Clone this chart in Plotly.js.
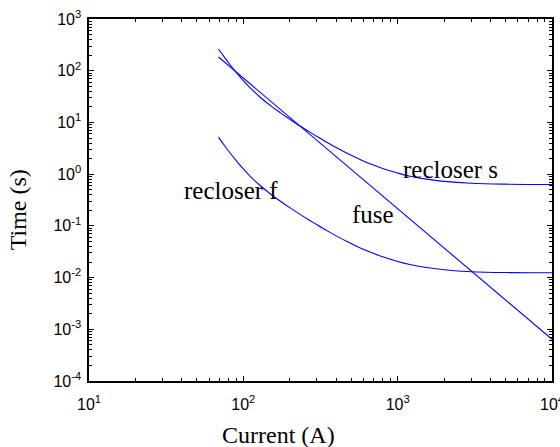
<!DOCTYPE html>
<html>
<head>
<meta charset="utf-8">
<script src="https://cdn.plot.ly/plotly-3.0.1.min.js"></script>
<style>
  html, body { margin: 0; padding: 0; background: #fff; overflow: hidden; }
  #chart { width: 560px; height: 447px; }
</style>
</head>
<body>
<div id="chart"></div>
<script>
// Time-current characteristics: fast and slow recloser curves and a fuse
const currentFast = [69, 75, 80, 91, 100, 110, 128, 150, 173, 200, 233, 270, 300, 350, 400, 470, 550, 650, 800, 1000, 1200, 1500, 2000, 3000, 5000, 10000];
const timeFast    = [5.2, 3.66, 2.83, 1.75, 1.26, 0.93, 0.61, 0.414, 0.303, 0.225, 0.167, 0.127, 0.105, 0.080, 0.064, 0.0497, 0.0396, 0.0318, 0.0252, 0.0205, 0.0179, 0.0158, 0.0142, 0.0130, 0.0125, 0.0124];

const currentSlow = [69, 75, 80, 91, 100, 110, 128, 150, 173, 200, 233, 270, 300, 350, 400, 470, 550, 650, 800, 1000, 1200, 1500, 2000, 3000, 5000, 10000];
const timeSlow    = [263, 187, 144, 89, 64, 47.5, 31, 21.1, 15.5, 11.5, 8.5, 6.5, 5.35, 4.1, 3.26, 2.53, 2.02, 1.62, 1.29, 1.05, 0.91, 0.81, 0.725, 0.665, 0.64, 0.632];

const currentFuse = [69, 100, 233, 1000, 3000, 10000];
const timeFuse    = [184, 72, 8.5, 0.21, 0.013, 0.00064];

const curveLabels = ['recloser f', 'recloser s', 'fuse'];
const xTitle = 'Current (A)';
const yTitle = 'Time (s)';

// decade ticks and labels
const xDecades = [10, 100, 1000, 10000];
const xDecadeText = ['10<sup>1</sup>', '10<sup>2</sup>', '10<sup>3</sup>', '10<sup>4</sup>'];
const yDecades = [1e-4, 1e-3, 1e-2, 1e-1, 1, 10, 100, 1000];
const yDecadeText = ['10<sup>-4</sup>', '10<sup>-3</sup>', '10<sup>-2</sup>', '10<sup>-1</sup>', '10<sup>0</sup>', '10<sup>1</sup>', '10<sup>2</sup>', '10<sup>3</sup>'];

// minor ticks at 2..9 within each decade
function minorTicks(decades) {
  const out = [];
  decades.slice(0, -1).forEach(d => { for (let k = 2; k <= 9; k++) out.push(d * k); });
  return out;
}

const lineStyle = { color: 'rgb(0,0,255)', width: 1.1 };
const serif = '"Times New Roman", "Liberation Serif", serif';
const sans = 'Arial, "Liberation Sans", sans-serif';

const traces = [
  { x: currentFast, y: timeFast, mode: 'lines', line: Object.assign({ shape: 'spline', smoothing: 1 }, lineStyle), name: curveLabels[0] },
  { x: currentSlow, y: timeSlow, mode: 'lines', line: Object.assign({ shape: 'spline', smoothing: 1 }, lineStyle), name: curveLabels[1] },
  // the fuse sits on the overlay axes that carry the minor ticks
  { x: currentFuse, y: timeFuse, mode: 'lines', line: Object.assign({ shape: 'linear' }, lineStyle), name: curveLabels[2], xaxis: 'x2', yaxis: 'y2' }
];

function majorAxis(vals, text, range, standoff) {
  return {
    type: 'log',
    range: range,
    tickmode: 'array',
    tickvals: vals,
    ticktext: text,
    showgrid: false,
    zeroline: false,
    showline: true,
    linecolor: '#000',
    linewidth: 1.6,
    mirror: 'allticks',
    ticks: 'inside',
    ticklen: 5,
    tickwidth: 1,
    tickcolor: '#000',
    ticklabelstandoff: standoff,
    ticklabeloverflow: 'allow',
    tickfont: { family: sans, size: 16, color: '#000' }
  };
}

function minorAxis(vals, range, over, anchor, side) {
  return {
    type: 'log',
    range: range,
    overlaying: over,
    anchor: anchor,
    side: side,
    tickmode: 'array',
    tickvals: minorTicks(vals),
    showticklabels: false,
    showgrid: false,
    zeroline: false,
    showline: false,
    mirror: 'allticks',
    ticks: 'inside',
    ticklen: 3,
    tickwidth: 1,
    tickcolor: '#000'
  };
}

const layout = {
  width: 560,
  height: 447,
  margin: { l: 89, r: 8, t: 19, b: 66, pad: 0 },
  paper_bgcolor: '#fff',
  plot_bgcolor: '#fff',
  showlegend: false,
  xaxis: majorAxis(xDecades, xDecadeText, [1, 4], 8),
  yaxis: majorAxis(yDecades, yDecadeText, [-4, 3], 3),
  xaxis2: minorAxis(xDecades, [1, 4], 'x', 'y2', 'bottom'),
  yaxis2: minorAxis(yDecades, [-4, 3], 'y', 'x2', 'left'),
  annotations: [
    { text: curveLabels[0], xref: 'paper', yref: 'paper', x: 0.307, y: 0.527, xanchor: 'center', yanchor: 'middle', showarrow: false,
      font: { family: serif, size: 25, color: '#000' } },
    { text: curveLabels[1], xref: 'paper', yref: 'paper', x: 0.780, y: 0.585, xanchor: 'center', yanchor: 'middle', showarrow: false,
      font: { family: serif, size: 25, color: '#000' } },
    { text: curveLabels[2], xref: 'paper', yref: 'paper', x: 0.613, y: 0.459, xanchor: 'center', yanchor: 'middle', showarrow: false,
      font: { family: serif, size: 25, color: '#000' } },
    { text: xTitle, xref: 'paper', yref: 'paper', x: 0.41, y: -0.149, xanchor: 'center', yanchor: 'middle', showarrow: false,
      font: { family: serif, size: 24, color: '#000' } },
    { text: yTitle, xref: 'paper', yref: 'paper', x: -0.153, y: 0.472, xanchor: 'center', yanchor: 'middle', showarrow: false, textangle: -90,
      font: { family: serif, size: 24, color: '#000' } }
  ]
};

Plotly.newPlot('chart', traces, layout, { staticPlot: true, displayModeBar: false });
</script>
</body>
</html>
